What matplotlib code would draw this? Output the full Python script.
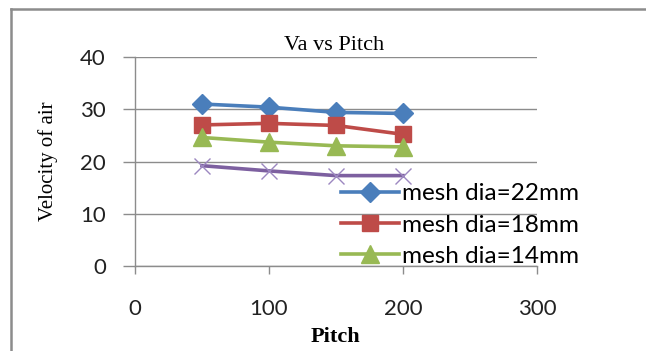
import matplotlib
matplotlib.use("Agg")
import matplotlib.pyplot as plt
from matplotlib.lines import Line2D

# ------------------------------------------------------------
# data
# ------------------------------------------------------------
pitch = [50, 100, 150, 200]

va_22 = [31.0, 30.4, 29.4, 29.2]
va_18 = [27.0, 27.3, 26.9, 25.2]
va_14 = [24.6, 23.7, 23.0, 22.8]
va_10 = [19.2, 18.2, 17.3, 17.3]

labels = ["mesh dia=22mm", "mesh dia=18mm", "mesh dia=14mm"]

x_ticks = [0, 100, 200, 300]
y_ticks = [0, 10, 20, 30, 40]

# ------------------------------------------------------------
# figure
# ------------------------------------------------------------
W, H = 646, 351
fig = plt.figure(figsize=(W / 100, H / 100), dpi=100)

# outer chart border - only left and top are visible
BORDER = "#8c8c8c"
fig.add_artist(Line2D([11 / W, 11 / W], [0, 1 - 9 / H], color=BORDER,
                      lw=1.8, transform=fig.transFigure))
fig.add_artist(Line2D([11 / W, 1], [1 - 9 / H, 1 - 9 / H], color=BORDER,
                      lw=1.8, transform=fig.transFigure))

ax = fig.add_axes([135 / W, 85 / H, 402 / W, 209 / H])

GRID = "#8c8c8c"
tick_font = "Lato"
serif = "Liberation Serif"

ax.plot(pitch, va_22, color="#4a7ebb", lw=2.6, marker="D", ms=10,
        label=labels[0])
ax.plot(pitch, va_18, color="#be4b48", lw=2.6, marker="s", ms=12,
        label=labels[1])
ax.plot(pitch, va_14, color="#98b954", lw=2.6, marker="^", ms=13,
        label=labels[2])
ax.plot(pitch, va_10, color="#7d60a0", lw=2.6, marker="x", ms=12,
        mew=1.0, mec="#9c87c0")

ax.set_xlim(0, 300)
ax.set_ylim(0, 40)
ax.set_xticks(x_ticks)
ax.set_yticks(y_ticks)
ax.grid(axis="y", color=GRID, lw=1.0)
ax.set_axisbelow(True)

for s in ["top", "right"]:
    ax.spines[s].set_visible(False)
for s in ["left", "bottom"]:
    ax.spines[s].set_color(GRID)
    ax.spines[s].set_linewidth(1.0)

ax.tick_params(axis="y", length=9, width=1.0, color=GRID, pad=12,
               labelsize=16, labelcolor="#222222")
ax.tick_params(axis="x", length=6, width=1.0, color=GRID, pad=18,
               labelsize=16, labelcolor="#222222")
for lab in ax.get_xticklabels() + ax.get_yticklabels():
    lab.set_fontfamily(tick_font)

fig.text(334 / W, 1 - 45 / H, "Va vs Pitch", ha="center", va="center",
         fontsize=16, family=serif)
fig.text(335 / W, 1 - 337 / H, "Pitch", ha="center", va="center",
         fontsize=16, fontweight="bold", family=serif)
fig.text(48 / W, 1 - 161 / H, "Velocity of air", ha="center", va="center",
         rotation=90, fontsize=15, family=serif)

leg = ax.legend(loc="center left", bbox_to_anchor=(341 / W, 1 - 225 / H),
                bbox_transform=fig.transFigure, frameon=False,
                prop={"family": tick_font, "size": 17.5},
                handlelength=2.4, handletextpad=0.12, borderpad=0,
                borderaxespad=0, labelspacing=0.42, numpoints=1)

plt.savefig("out.png", dpi=100)
